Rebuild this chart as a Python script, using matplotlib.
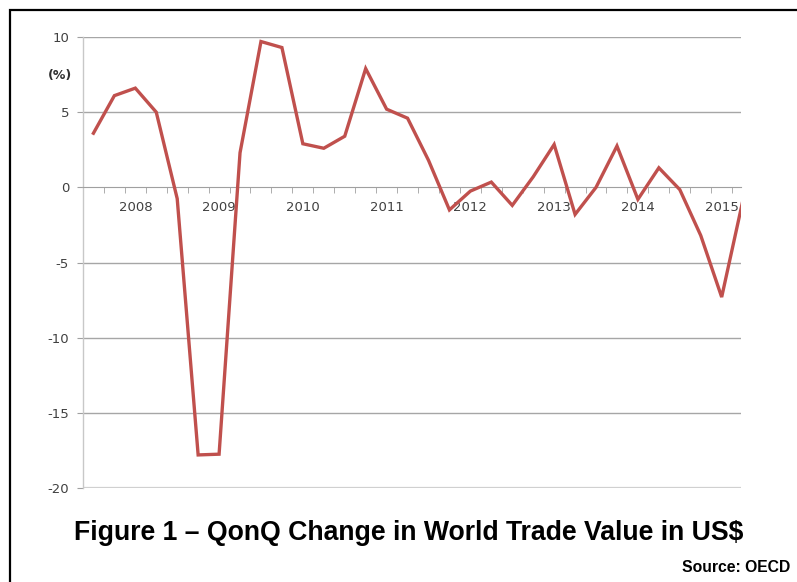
import numpy as np
import matplotlib
matplotlib.use('Agg')
import matplotlib.pyplot as plt
from matplotlib.patches import Rectangle

# quarterly QonQ change (%), 2007Q3 .. 2015Q2
valores = [3.6, 6.1, 6.6, 5.0, -0.75, -17.8, -17.75, 2.3,
           9.7, 9.3, 2.9, 2.6, 3.4, 7.9, 5.2, 4.6,
           1.8, -1.5, -0.25, 0.35, -1.2, 0.7, 2.85, -1.8,
           0.0, 2.75, -0.8, 1.3, -0.15, -3.2, -7.3, -0.95]
anios = ['2008', '2009', '2010', '2011', '2012', '2013', '2014', '2015']
pos_anios = [2, 6, 10, 14, 18, 22, 26, 30]
yticks = [10, 5, 0, -5, -10, -15, -20]

rojo = '#C0504D'
gris = '#A6A6A6'
txt = '#404040'

fig = plt.figure(figsize=(7.97, 5.82), dpi=100)
ax = fig.add_axes([0.1041, 0.1615, 0.8253, 0.7749])

xx = np.arange(len(valores))
ax.plot(xx, valores, color=rojo, lw=2.4, solid_joinstyle='miter', zorder=3)

ax.set_xlim(-0.5, 30.91)
ax.set_ylim(-20, 10)

# gridlines
for yv in [10, 5, -5, -10, -15]:
    ax.axhline(yv, color=gris, lw=1.0, zorder=1)
ax.axhline(-20, color='#D0D0D0', lw=1.6, zorder=1)

for s in ['top', 'right']:
    ax.spines[s].set_visible(False)
ax.spines['bottom'].set_position(('data', 0))
ax.spines['bottom'].set_color('#A0A0A0')
ax.spines['left'].set_color('#C8C8C8')
ax.spines['left'].set_linewidth(1.0)

ax.set_yticks(yticks)
ax.set_yticklabels([str(v) for v in yticks], fontsize=9.5, color=txt)
ax.tick_params(axis='y', length=4, color='#A0A0A0', pad=6)

ax.set_xticks(pos_anios)
ax.set_xticklabels(anios, fontsize=9.5, color=txt)
ax.set_xticks(np.arange(0.5, 31, 1.0), minor=True)
ax.tick_params(axis='x', which='major', length=0, pad=10)
ax.tick_params(axis='x', which='minor', length=4, color='#A0A0A0')

fig.text(60 / 797, 1 - 76 / 582, '(%)', fontsize=9, fontweight='bold',
         color='#303030', ha='center', va='center')

fig.text(409 / 797, 1 - 533 / 582,
         'Figure 1 \u2013 QonQ Change in World Trade Value in US$',
         fontsize=19.2, fontweight='bold', family='Liberation Sans',
         ha='center', va='center')
fig.text(790 / 797, 1 - 568 / 582, 'Source: OECD', fontsize=11.3,
         fontweight='bold', family='Liberation Sans', ha='right', va='center')

# outer frame
fig.patches.append(Rectangle((10 / 797, -0.1), 1.2, 1 - 9.5 / 582 + 0.1,
                             transform=fig.transFigure, fill=False,
                             edgecolor='black', lw=1.6))

fig.savefig('out.png', dpi=100)
